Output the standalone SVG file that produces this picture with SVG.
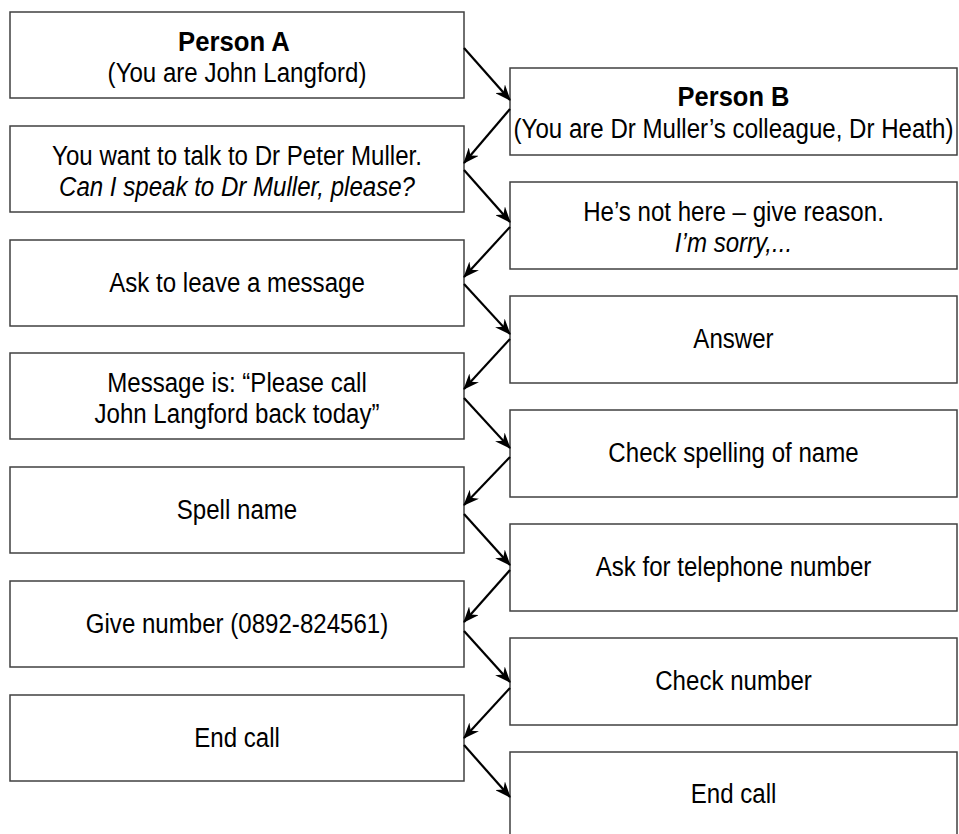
<svg xmlns="http://www.w3.org/2000/svg" width="959" height="834" viewBox="0 0 959 834">
<style>
rect.box { fill: #ffffff; stroke: #404040; stroke-width: 1.5; }
text { font-family: "Liberation Sans", Arial, sans-serif; font-size: 28px; text-anchor: middle; fill: #000000; }
text.b { font-weight: bold; }
text.i { font-style: italic; }
line.c { stroke: #000000; stroke-width: 2.2; marker-end: url(#ah); }
</style>
<defs>
<marker id="ah" markerWidth="16" markerHeight="13" refX="15" refY="6.5" orient="auto" markerUnits="userSpaceOnUse">
<path d="M0,0 L16,6.5 L0,13 L5,6.5 z" fill="#000000"/>
</marker>
</defs>
<rect x="0" y="0" width="959" height="834" fill="#ffffff"/>

<g id="a1">
<rect class="box" x="10" y="12" width="454" height="86"/>
<g transform="translate(234 0) scale(0.86 1)">
<text class="b" x="0" y="51" textLength="130" lengthAdjust="spacingAndGlyphs">Person A</text>
</g>
<g transform="translate(237 0) scale(0.86 1)">
<text x="0" y="82">(You are John Langford)</text>
</g>
</g>
<g id="a2">
<rect class="box" x="10" y="126" width="454" height="86"/>
<g transform="translate(237 0) scale(0.86 1)">
<text x="0" y="165">You want to talk to Dr Peter Muller.</text>
<text class="i" x="0" y="196">Can I speak to Dr Muller, please?</text>
</g>
</g>
<g id="a3">
<rect class="box" x="10" y="240" width="454" height="86"/>
<g transform="translate(237 0) scale(0.86 1)">
<text x="0" y="292">Ask to leave a message</text>
</g>
</g>
<g id="a4">
<rect class="box" x="10" y="353" width="454" height="86"/>
<g transform="translate(237 0) scale(0.86 1)">
<text x="0" y="392">Message is: “Please call</text>
<text x="0" y="423">John Langford back today”</text>
</g>
</g>
<g id="a5">
<rect class="box" x="10" y="467" width="454" height="86"/>
<g transform="translate(237 0) scale(0.86 1)">
<text x="0" y="519">Spell name</text>
</g>
</g>
<g id="a6">
<rect class="box" x="10" y="581" width="454" height="86"/>
<g transform="translate(237 0) scale(0.86 1)">
<text x="0" y="633">Give number (0892-824561)</text>
</g>
</g>
<g id="a7">
<rect class="box" x="10" y="695" width="454" height="86"/>
<g transform="translate(237 0) scale(0.86 1)">
<text x="0" y="747">End call</text>
</g>
</g>

<g id="b1">
<rect class="box" x="510" y="68" width="447" height="87"/>
<g transform="translate(733.5 0) scale(0.86 1)">
<text class="b" x="0" y="106" textLength="130" lengthAdjust="spacingAndGlyphs">Person B</text>
<text x="0" y="138">(You are Dr Muller’s colleague, Dr Heath)</text>
</g>
</g>
<g id="b2">
<rect class="box" x="510" y="182" width="447" height="87"/>
<g transform="translate(733.5 0) scale(0.86 1)">
<text x="0" y="221">He’s not here – give reason.</text>
<text class="i" x="0" y="252">I’m sorry,...</text>
</g>
</g>
<g id="b3">
<rect class="box" x="510" y="296" width="447" height="87"/>
<g transform="translate(733.5 0) scale(0.86 1)">
<text x="0" y="348">Answer</text>
</g>
</g>
<g id="b4">
<rect class="box" x="510" y="410" width="447" height="87"/>
<g transform="translate(733.5 0) scale(0.86 1)">
<text x="0" y="462">Check spelling of name</text>
</g>
</g>
<g id="b5">
<rect class="box" x="510" y="524" width="447" height="87"/>
<g transform="translate(733.5 0) scale(0.86 1)">
<text x="0" y="576">Ask for telephone number</text>
</g>
</g>
<g id="b6">
<rect class="box" x="510" y="638" width="447" height="87"/>
<g transform="translate(733.5 0) scale(0.86 1)">
<text x="0" y="690">Check number</text>
</g>
</g>
<g id="b7">
<rect class="box" x="510" y="752" width="447" height="100"/>
<g transform="translate(733.5 0) scale(0.86 1)">
<text x="0" y="803">End call</text>
</g>
</g>

<g id="connectors">
<line class="c" x1="464" y1="48" x2="510" y2="100"/>
<line class="c" x1="510" y1="109" x2="464" y2="163"/>
<line class="c" x1="464" y1="170" x2="510" y2="222"/>
<line class="c" x1="510" y1="227" x2="464" y2="277"/>
<line class="c" x1="464" y1="284" x2="510" y2="334"/>
<line class="c" x1="510" y1="339" x2="464" y2="389"/>
<line class="c" x1="464" y1="398" x2="510" y2="448"/>
<line class="c" x1="510" y1="457" x2="464" y2="505"/>
<line class="c" x1="464" y1="514" x2="510" y2="565"/>
<line class="c" x1="510" y1="570" x2="464" y2="622"/>
<line class="c" x1="464" y1="631" x2="510" y2="682"/>
<line class="c" x1="510" y1="688" x2="464" y2="738"/>
<line class="c" x1="464" y1="745" x2="510" y2="797"/>
</g>
</svg>
